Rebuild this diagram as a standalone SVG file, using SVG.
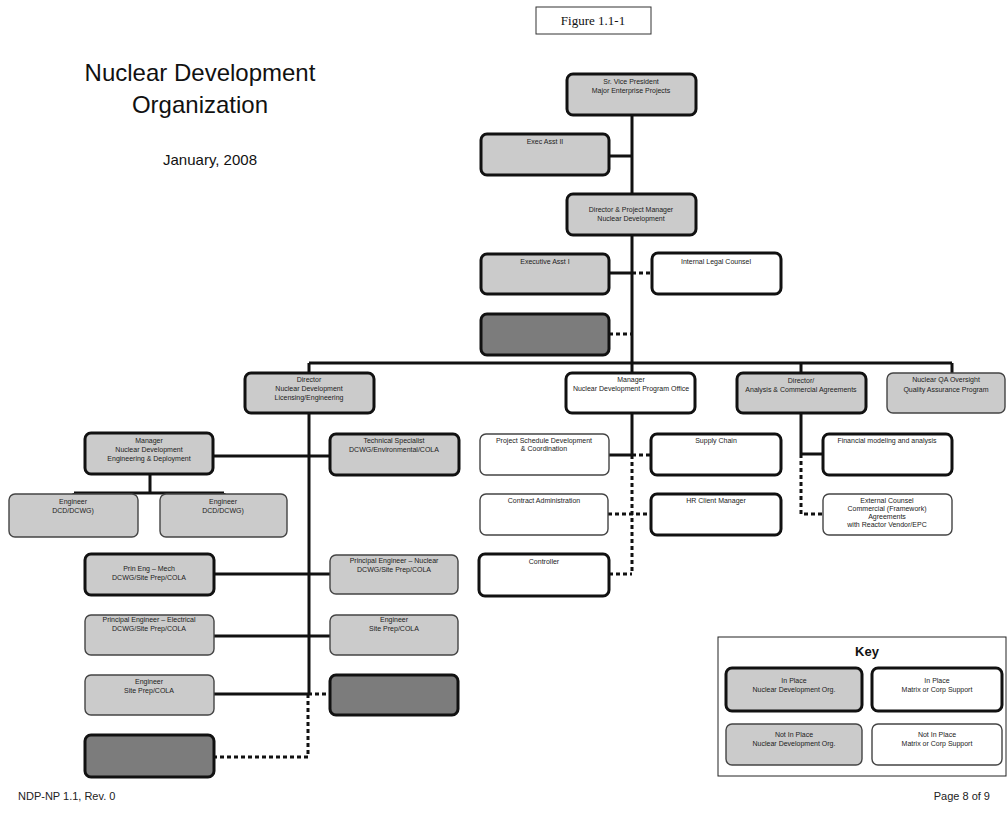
<svg xmlns="http://www.w3.org/2000/svg" width="1007" height="814" viewBox="0 0 1007 814">
<style>
.g{fill:#cbcbcb}
.w{fill:#fff}
.d{fill:#7c7c7c}
.tk{stroke:#111;stroke-width:3}
.tn{stroke:#444;stroke-width:1.4}
.t{font-family:"Liberation Sans",Arial,sans-serif;font-size:7px;fill:#222;text-anchor:middle}
.ln{stroke:#111;stroke-width:3;fill:none}
.dt{stroke:#111;stroke-width:3;fill:none;stroke-dasharray:4 3}
</style>
<rect width="1007" height="814" fill="#fff"/>
<g id="figure-label"><rect x="536" y="7" width="115" height="27" fill="#fff" stroke="#333" stroke-width="1"/><text x="593" y="25" font-family="'Liberation Serif',serif" font-size="13" text-anchor="middle" fill="#111">Figure 1.1-1</text></g>
<g id="title" font-family="'Liberation Sans',Arial,sans-serif" fill="#111" text-anchor="middle">
<text x="200" y="81" font-size="24">Nuclear Development</text>
<text x="200" y="113" font-size="24">Organization</text>
<text x="210" y="165" font-size="15">January, 2008</text>
</g>
<g id="connectors">
<path class="ln" d="M632 115V363M609 156H632M609 273H632M309 363H952M309 363V694M632 363V455M801 363V454M952 363V373M609 455H632M801 454H823M213 456H330M150 474V493M74 493H224M74 493V494M224 493V494M214 574H308M214 636H308M308 574H330M308 636H330M214 694H308"/>
<path class="dt" d="M632 273H652M609 334H632M632 455H651M632 455V574M608 514H651M609 574H632M801 454V514H823M308 694H330M308 694V757H214"/>
</g>
<g id="n-svp"><rect class="g tk" x="567" y="74" width="129" height="41" rx="6"/><text class="t" x="631" y="84">Sr. Vice President</text><text class="t" x="631" y="93">Major Enterprise Projects</text></g>
<g id="n-eaii"><rect class="g tk" x="481" y="134" width="128" height="41" rx="6"/><text class="t" x="545" y="144">Exec Asst II</text></g>
<g id="n-dpm"><rect class="g tk" x="567" y="194" width="129" height="41" rx="6"/><text class="t" x="631" y="212">Director &amp; Project Manager</text><text class="t" x="631" y="221">Nuclear Development</text></g>
<g id="n-eai"><rect class="g tk" x="481" y="254" width="128" height="40" rx="6"/><text class="t" x="545" y="264">Executive Asst I</text></g>
<g id="n-legal"><rect class="w tk" x="652" y="253" width="129" height="41" rx="6"/><text class="t" x="716" y="264">Internal Legal Counsel</text></g>
<g id="n-dark1"><rect class="d tk" x="481" y="314" width="128" height="41" rx="6"/></g>
<g id="n-dlic"><rect class="g tk" x="245" y="373" width="129" height="40" rx="6"/><text class="t" x="309" y="382">Director</text><text class="t" x="309" y="391">Nuclear Development</text><text class="t" x="309" y="400">Licensing/Engineering</text></g>
<g id="n-mpo"><rect class="w tk" x="566" y="373" width="129" height="40" rx="6"/><text class="t" x="631" y="382">Manager</text><text class="t" x="631" y="391">Nuclear Development Program Office</text></g>
<g id="n-dac"><rect class="g tk" x="737" y="373" width="129" height="40" rx="6"/><text class="t" x="801" y="383">Director/</text><text class="t" x="801" y="392">Analysis &amp; Commercial Agreements</text></g>
<g id="n-qa"><rect class="g tn" x="887" y="373" width="118" height="40" rx="6"/><text class="t" x="946" y="382">Nuclear QA Oversight</text><text class="t" x="946" y="392">Quality Assurance Program</text></g>
<g id="n-med"><rect class="g tk" x="85" y="433" width="128" height="41" rx="6"/><text class="t" x="149" y="443">Manager</text><text class="t" x="149" y="452">Nuclear Development</text><text class="t" x="149" y="461">Engineering &amp; Deployment</text></g>
<g id="n-ts"><rect class="g tk" x="330" y="434" width="129" height="41" rx="6"/><text class="t" x="394" y="443">Technical Specialist</text><text class="t" x="394" y="452">DCWG/Environmental/COLA</text></g>
<g id="n-eng1"><rect class="g tn" x="9" y="494" width="129" height="43" rx="6"/><text class="t" x="73" y="504">Engineer</text><text class="t" x="73" y="513">DCD/DCWG)</text></g>
<g id="n-eng2"><rect class="g tn" x="160" y="494" width="127" height="43" rx="6"/><text class="t" x="223" y="504">Engineer</text><text class="t" x="223" y="513">DCD/DCWG)</text></g>
<g id="n-pem"><rect class="g tk" x="85" y="554" width="129" height="41" rx="6"/><text class="t" x="149" y="571">Prin Eng – Mech</text><text class="t" x="149" y="580">DCWG/Site Prep/COLA</text></g>
<g id="n-pen"><rect class="g tn" x="330" y="555" width="128" height="39" rx="6"/><text class="t" x="394" y="563">Principal Engineer – Nuclear</text><text class="t" x="394" y="572">DCWG/Site Prep/COLA</text></g>
<g id="n-pee"><rect class="g tn" x="85" y="615" width="129" height="40" rx="6"/><text class="t" x="149" y="622">Principal Engineer – Electrical</text><text class="t" x="149" y="631">DCWG/Site Prep/COLA</text></g>
<g id="n-esp1"><rect class="g tn" x="330" y="615" width="128" height="40" rx="6"/><text class="t" x="394" y="622">Engineer</text><text class="t" x="394" y="631">Site Prep/COLA</text></g>
<g id="n-esp2"><rect class="g tn" x="85" y="675" width="129" height="40" rx="6"/><text class="t" x="149" y="684">Engineer</text><text class="t" x="149" y="693">Site Prep/COLA</text></g>
<g id="n-dark2"><rect class="d tk" x="330" y="675" width="128" height="40" rx="6"/></g>
<g id="n-dark3"><rect class="d tk" x="85" y="735" width="129" height="42" rx="6"/></g>
<g id="n-psd"><rect class="w tn" x="480" y="434" width="129" height="41" rx="6"/><text class="t" x="544" y="443">Project Schedule Development</text><text class="t" x="544" y="451">&amp; Coordination</text></g>
<g id="n-sc"><rect class="w tk" x="651" y="434" width="130" height="41" rx="6"/><text class="t" x="716" y="443">Supply Chain</text></g>
<g id="n-ca"><rect class="w tn" x="480" y="494" width="128" height="41" rx="6"/><text class="t" x="544" y="503">Contract Administration</text></g>
<g id="n-hr"><rect class="w tk" x="651" y="494" width="130" height="41" rx="6"/><text class="t" x="716" y="503">HR Client Manager</text></g>
<g id="n-ctl"><rect class="w tk" x="479" y="554" width="130" height="42" rx="6"/><text class="t" x="544" y="564">Controller</text></g>
<g id="n-fin"><rect class="w tk" x="823" y="434" width="129" height="41" rx="6"/><text class="t" x="887" y="443">Financial modeling and analysis</text></g>
<g id="n-ext"><rect class="w tn" x="823" y="494" width="129" height="41" rx="6"/><text class="t" x="887" y="503">External Counsel</text><text class="t" x="887" y="511">Commercial (Framework)</text><text class="t" x="887" y="519">Agreements</text><text class="t" x="887" y="527">with Reactor Vendor/EPC</text></g>
<g id="key">
<rect x="718" y="637" width="288" height="139" fill="#fff" stroke="#222" stroke-width="1"/>
<text x="867" y="656" font-family="'Liberation Sans',Arial,sans-serif" font-size="13" font-weight="bold" text-anchor="middle" fill="#111">Key</text>
<rect class="g tk" x="726" y="668" width="136" height="43" rx="6"/><text class="t" x="794" y="683">In Place</text><text class="t" x="794" y="692">Nuclear Development Org.</text>
<rect class="w tk" x="872" y="668" width="130" height="43" rx="6"/><text class="t" x="937" y="683">In Place</text><text class="t" x="937" y="692">Matrix or Corp Support</text>
<rect class="g tn" x="726" y="724" width="136" height="41" rx="6"/><text class="t" x="794" y="737">Not In Place</text><text class="t" x="794" y="746">Nuclear Development Org.</text>
<rect class="w tn" x="872" y="724" width="130" height="41" rx="6"/><text class="t" x="937" y="737">Not In Place</text><text class="t" x="937" y="746">Matrix or Corp Support</text>
</g>
<g id="footer" font-family="'Liberation Sans',Arial,sans-serif" font-size="11" fill="#222">
<text x="18" y="800">NDP-NP 1.1, Rev. 0</text>
<text x="990" y="800" text-anchor="end">Page 8 of 9</text>
</g>
</svg>
